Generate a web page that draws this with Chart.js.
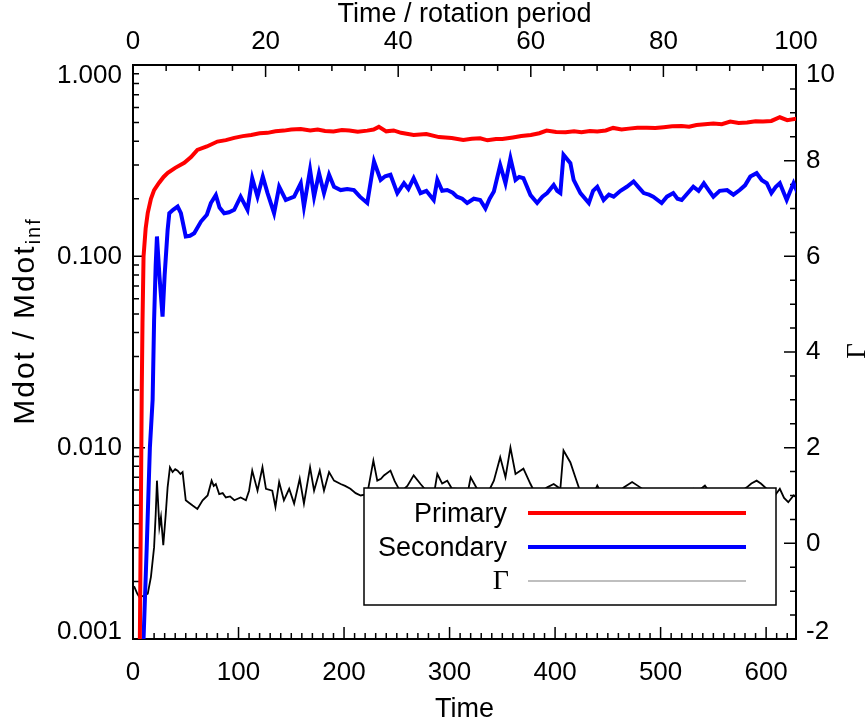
<!DOCTYPE html>
<html><head><meta charset="utf-8">
<script src="https://cdn.jsdelivr.net/npm/chart.js@4.4.1/dist/chart.umd.min.js"></script>
<style>html,body{margin:0;padding:0;background:#fff}canvas{display:block}</style>
</head><body>
<canvas id="c" width="867" height="721"></canvas>
<script>
// ---- data ----
const ROTATION_PERIOD = 2 * Math.PI;          // time units per rotation
const TIME_MAX = 100 * ROTATION_PERIOD;      // right edge of plot

const primaryT = [5, 6.5, 7.5, 8.3, 9, 10, 12, 14, 17, 20, 24.6, 29, 33, 40, 48.6, 55, 61, 70, 80, 88, 96, 104, 112, 120, 127.5, 135, 143, 150, 159, 168, 175, 182, 190, 198, 205, 213, 222, 228, 233, 240, 247, 254, 266, 278, 290, 302, 313, 321, 329, 336, 344, 350, 360, 368, 377, 385, 392, 401, 410, 418, 425, 433, 440, 448, 455, 463, 470, 478, 487, 495, 503, 511, 520, 527, 534, 542, 550, 558, 566, 574, 582, 590, 597, 605, 613, 620, 629];
const primaryV = [0.0004, 0.001, 0.005, 0.02, 0.045, 0.1, 0.14, 0.169, 0.2, 0.222, 0.242, 0.26, 0.273, 0.29, 0.308, 0.33, 0.36, 0.375, 0.398, 0.405, 0.416, 0.425, 0.431, 0.44, 0.442, 0.45, 0.454, 0.46, 0.463, 0.455, 0.46, 0.452, 0.449, 0.457, 0.455, 0.448, 0.454, 0.46, 0.475, 0.45, 0.455, 0.442, 0.431, 0.436, 0.42, 0.415, 0.406, 0.412, 0.414, 0.404, 0.41, 0.41, 0.418, 0.425, 0.431, 0.44, 0.454, 0.446, 0.445, 0.45, 0.445, 0.452, 0.449, 0.455, 0.469, 0.46, 0.465, 0.47, 0.47, 0.468, 0.473, 0.478, 0.48, 0.476, 0.486, 0.49, 0.495, 0.49, 0.506, 0.498, 0.5, 0.508, 0.506, 0.51, 0.533, 0.515, 0.525];

const secondaryT = [9, 10, 13, 16, 18.6, 20, 21.5, 22.7, 25, 28, 30, 32.8, 34.4, 38, 42.3, 45.4, 50, 54, 58, 64.4, 70, 73.8, 78.5, 82, 86.4, 91, 95.9, 102, 108.5, 113, 118, 123, 127.5, 133.7, 138.5, 144.8, 152.7, 159, 162, 167.8, 171.6, 176.3, 181, 185.8, 190.5, 196.8, 203, 209.4, 215, 222, 228.4, 234.7, 239, 244, 250.5, 256.8, 261, 266, 272.5, 278, 285, 288.4, 293, 297.8, 303, 307, 312, 316.7, 323, 329, 334, 338, 342, 348, 353, 357.7, 362.5, 366, 370, 376.7, 383, 388, 392.5, 398.7, 402, 405, 408, 414.5, 417.6, 424, 432, 436, 440, 446, 451, 455.5, 462, 468, 474.4, 479, 484, 489, 493, 501, 506, 512, 516, 520, 526, 531, 536, 541, 546, 550, 556, 563, 569, 575, 580, 585, 591, 596, 600.6, 605, 609, 613, 619.5, 623, 626, 630];
const secondaryV = [0.0007, 0.001, 0.003, 0.01, 0.0178, 0.0465, 0.09, 0.127, 0.08, 0.0484, 0.08, 0.137, 0.168, 0.175, 0.182, 0.168, 0.127, 0.128, 0.132, 0.152, 0.165, 0.19, 0.209, 0.18, 0.168, 0.17, 0.175, 0.205, 0.175, 0.256, 0.205, 0.261, 0.214, 0.168, 0.231, 0.197, 0.205, 0.241, 0.182, 0.283, 0.205, 0.272, 0.214, 0.267, 0.231, 0.222, 0.225, 0.222, 0.205, 0.19, 0.313, 0.251, 0.262, 0.267, 0.214, 0.241, 0.225, 0.256, 0.214, 0.22, 0.197, 0.251, 0.22, 0.222, 0.215, 0.205, 0.2, 0.19, 0.2, 0.197, 0.178, 0.2, 0.218, 0.30, 0.241, 0.326, 0.251, 0.26, 0.256, 0.209, 0.19, 0.205, 0.214, 0.236, 0.22, 0.214, 0.339, 0.307, 0.251, 0.214, 0.19, 0.22, 0.231, 0.197, 0.21, 0.205, 0.22, 0.231, 0.246, 0.23, 0.214, 0.21, 0.205, 0.19, 0.205, 0.214, 0.2, 0.197, 0.215, 0.231, 0.22, 0.241, 0.22, 0.205, 0.22, 0.222, 0.21, 0.222, 0.235, 0.261, 0.272, 0.25, 0.241, 0.214, 0.23, 0.241, 0.197, 0.22, 0.241, 0.214];

const gammaT = [0, 1.3, 4, 6, 10, 14, 17, 20, 21.5, 22.7, 25, 26.5, 28.7, 31, 32.8, 35, 37.5, 40, 42.3, 45, 47, 50, 53, 56.5, 61, 66, 70.7, 74.5, 76.5, 78.5, 81.7, 85, 88, 92, 96, 102, 107, 110, 113, 118, 122.7, 126, 132, 135, 138.5, 143, 148, 152.7, 158, 162, 167.8, 171.6, 177, 181, 185.8, 190.5, 196.8, 201, 206, 211, 215.8, 222, 227.8, 231.5, 235, 237.8, 244, 248, 253.6, 260, 266, 272.5, 278, 285, 288.4, 293, 297.8, 302, 307, 312, 316.7, 320, 326, 331, 335.7, 342, 348, 353, 357.7, 362.5, 366, 370, 376.7, 383, 388, 392.5, 398.7, 405, 408, 414.5, 419.2, 424, 428, 433.4, 440, 446, 450, 455.5, 460, 465, 473, 480.7, 485, 490, 495, 500, 505, 510.7, 516, 521.7, 527, 531, 536, 542, 547, 553, 558, 562.8, 567, 572, 577, 581.7, 586, 591, 595, 600.6, 607, 613, 617, 621, 626, 629];
const gammaV = [-0.9, -0.91, -1.05, -1.12, -1.1, -1.05, -0.7, -0.08, 0.6, 1.31, 0.34, 0.55, -0.04, 0.6, 1.17, 1.59, 1.49, 1.55, 1.52, 1.45, 1.49, 0.9, 0.85, 0.79, 0.72, 0.9, 1.0, 1.31, 1.2, 1.24, 1.03, 1.05, 0.96, 0.98, 0.9, 0.96, 0.9, 1.1, 1.52, 1.1, 1.59, 1.14, 1.1, 0.76, 1.28, 0.9, 1.14, 0.83, 1.35, 0.83, 1.59, 1.1, 1.52, 1.1, 1.49, 1.31, 1.24, 1.2, 1.14, 1.05, 1.0, 1.03, 1.73, 1.31, 1.35, 1.42, 1.52, 1.3, 1.07, 1.2, 1.42, 1.24, 1.1, 1.0, 1.45, 1.25, 1.31, 1.15, 1.14, 1.1, 1.0, 1.38, 1.14, 1.1, 1.03, 1.31, 1.8, 1.38, 2.0, 1.45, 1.5, 1.56, 1.24, 0.96, 1.1, 1.17, 1.24, 1.14, 1.94, 1.69, 1.38, 1.07, 1.0, 0.9, 1.21, 0.96, 1.05, 0.9, 1.05, 1.17, 1.28, 1.17, 1.1, 1.03, 0.95, 0.9, 0.98, 0.96, 0.92, 0.9, 1.05, 1.14, 1.1, 1.21, 1.05, 0.93, 1.05, 1.1, 1.0, 1.0, 1.1, 1.17, 1.25, 1.31, 1.25, 1.14, 0.96, 1.14, 0.95, 0.86, 1.0, 0.96];

const seriesNames = ['Primary', 'Secondary', 'Γ'];
const timeTickStep = 100;        // bottom axis labels 0..600
const rotationTickStep = 20;     // top axis labels 0..100
const gammaTickStep = 2;         // right axis labels -2..10
const mdotDecades = [0.001, 0.01, 0.1, 1];

// ---- helpers ----
const pts = (T, V) => T.map((t, i) => ({x: t, y: V[i]}));
const SANS = 'Liberation Sans, Arial, Helvetica, sans-serif';
const SERIF = 'Liberation Serif, Times New Roman, serif';

function nudgeEndLabels(scale, bottomShift, topShift) {
  const items = scale.getLabelItems(scale.chart.chartArea);
  if (!items || items.length < 2) return;
  const first = items[0], last = items[items.length - 1];
  // ticks are ordered by value: first = bottom, last = top
  first.options.translation = [first.options.translation[0], first.options.translation[1] + bottomShift];
  last.options.translation = [last.options.translation[0], last.options.translation[1] + topShift];
}

const axesPlugin = {
  id: 'idlAxes',
  beforeDraw(chart) {
    nudgeEndLabels(chart.scales.y, -7, 11);
    nudgeEndLabels(chart.scales.g, -7, 10);
  },
  beforeDatasetsDraw(chart) {
    const ctx = chart.ctx, a = chart.chartArea;
    const sx = chart.scales.x, st = chart.scales.xt, sy = chart.scales.y, sg = chart.scales.g;
    ctx.save();
    ctx.strokeStyle = '#000';
    ctx.lineWidth = 1.5;
    ctx.beginPath();
    for (let t = 0; t <= TIME_MAX; t += 10) {
      const p = sx.getPixelForValue(t), L = (t % 100 === 0) ? 12 : 6;
      ctx.moveTo(p, a.bottom); ctx.lineTo(p, a.bottom - L);
    }
    for (let r = 0; r <= 100; r += 5) {
      const p = st.getPixelForValue(r), L = (r % 20 === 0) ? 12 : 6;
      ctx.moveTo(p, a.top); ctx.lineTo(p, a.top + L);
    }
    for (let e = -3; e <= 0; e++) {
      for (let m = 1; m <= 9; m++) {
        const v = m * Math.pow(10, e);
        if (v > 1.0001) break;
        const p = sy.getPixelForValue(v), L = (m === 1) ? 12 : 6;
        ctx.moveTo(a.left, p); ctx.lineTo(a.left + L, p);
      }
    }
    for (let k = -4; k <= 20; k++) {
      const p = sg.getPixelForValue(k / 2), L = (k % 4 === 0) ? 12 : 6;
      ctx.moveTo(a.right, p); ctx.lineTo(a.right - L, p);
    }
    ctx.stroke();
    ctx.lineWidth = 2;
    ctx.strokeRect(a.left, a.top, a.right - a.left, a.bottom - a.top);
    ctx.restore();
  },
  afterDatasetsDraw(chart) {
    // legend box
    const ctx = chart.ctx;
    const box = {l: 364, t: 488, r: 776, b: 605};
    ctx.save();
    ctx.fillStyle = '#fff';
    ctx.fillRect(box.l, box.t, box.r - box.l, box.b - box.t);
    ctx.strokeStyle = '#000'; ctx.lineWidth = 1.5;
    ctx.strokeRect(box.l, box.t, box.r - box.l, box.b - box.t);
    const ds = chart.data.datasets;
    const lineY = [513, 547, 581];
    const textBase = [522, 556, 589];
    ctx.textAlign = 'right'; ctx.textBaseline = 'alphabetic'; ctx.fillStyle = '#000';
    lineY.forEach((y, i) => {
      ctx.font = (i === 2 ? '28px ' + SERIF : '27px ' + SANS);
      ctx.fillText(ds[i].label, i === 2 ? 509 : 507, textBase[i]);
      ctx.beginPath();
      ctx.strokeStyle = i === 2 ? '#808080' : ds[i].borderColor;
      ctx.lineWidth = i === 2 ? 1.2 : 4;
      ctx.moveTo(528, y); ctx.lineTo(746, y);
      ctx.stroke();
    });
    ctx.restore();
  },
  afterDraw(chart) {
    const ctx = chart.ctx, a = chart.chartArea;
    const cx = (a.left + a.right) / 2;
    ctx.save();
    ctx.fillStyle = '#000';
    ctx.textAlign = 'center'; ctx.textBaseline = 'alphabetic';
    ctx.font = '27px ' + SANS;
    ctx.fillText('Time / rotation period', cx, 22);
    ctx.fillText('Time', cx, 717);
    // left title with subscript
    ctx.save();
    ctx.translate(34, 321);
    ctx.rotate(-Math.PI / 2);
    if ('letterSpacing' in ctx) ctx.letterSpacing = '2px';
    const main = 'Mdot / Mdot', sub = 'inf';
    ctx.font = '30px ' + SANS;
    const w1 = ctx.measureText(main).width;
    ctx.font = '20px ' + SANS;
    const w2 = ctx.measureText(sub).width;
    const x0 = -(w1 + w2) / 2;
    ctx.textAlign = 'left';
    ctx.font = '30px ' + SANS;
    ctx.fillText(main, x0, 0);
    ctx.font = '20px ' + SANS;
    ctx.fillText(sub, x0 + w1, 6);
    ctx.restore();
    // right title
    ctx.save();
    ctx.translate(865, 351);
    ctx.rotate(-Math.PI / 2);
    ctx.font = '27px ' + SERIF;
    ctx.textAlign = 'center';
    ctx.fillText('Γ', 0, 0);
    ctx.restore();
    ctx.restore();
  }
};

const tickFont = {family: SANS, size: 26};

new Chart(document.getElementById('c'), {
  type: 'line',
  data: {
    datasets: [
      {label: seriesNames[0], data: pts(primaryT, primaryV), borderColor: '#ff0000', borderWidth: 4, pointRadius: 0, xAxisID: 'x', yAxisID: 'y', tension: 0},
      {label: seriesNames[1], data: pts(secondaryT, secondaryV), borderColor: '#0000ff', borderWidth: 4, pointRadius: 0, xAxisID: 'x', yAxisID: 'y', tension: 0},
      {label: seriesNames[2], data: pts(gammaT, gammaV), borderColor: '#000000', borderWidth: 1.8, pointRadius: 0, xAxisID: 'x', yAxisID: 'g', tension: 0}
    ]
  },
  options: {
    responsive: false,
    animation: false,
    devicePixelRatio: 1,
    layout: {padding: 0},
    plugins: {legend: {display: false}, tooltip: {enabled: false}},
    scales: {
      x: {
        type: 'linear', position: 'bottom', min: 0, max: TIME_MAX,
        grid: {display: false, drawTicks: false}, border: {display: false},
        ticks: {stepSize: timeTickStep, includeBounds: false, padding: 18, font: tickFont, color: '#000', maxRotation: 0, autoSkip: false},
        afterFit: s => { s.height = 82; }
      },
      xt: {
        type: 'linear', position: 'top', min: 0, max: 100,
        grid: {display: false, drawTicks: false}, border: {display: false},
        ticks: {stepSize: rotationTickStep, padding: 8, font: tickFont, color: '#000', maxRotation: 0, autoSkip: false},
        afterFit: s => { s.height = 65; }
      },
      y: {
        type: 'logarithmic', position: 'left', min: mdotDecades[0], max: mdotDecades[mdotDecades.length - 1],
        grid: {display: false, drawTicks: false}, border: {display: false},
        afterBuildTicks: s => { s.ticks = mdotDecades.map(v => ({value: v, major: true})); },
        ticks: {padding: 11, font: tickFont, color: '#000', autoSkip: false,
          callback: v => Number(v).toFixed(3)},
        afterFit: s => { s.width = 133; }
      },
      g: {
        type: 'linear', position: 'right', min: -2, max: 10,
        grid: {display: false, drawTicks: false}, border: {display: false},
        ticks: {stepSize: gammaTickStep, padding: 10, font: tickFont, color: '#000', autoSkip: false},
        afterFit: s => { s.width = 71; }
      }
    }
  },
  plugins: [axesPlugin]
});
</script>
</body></html>
